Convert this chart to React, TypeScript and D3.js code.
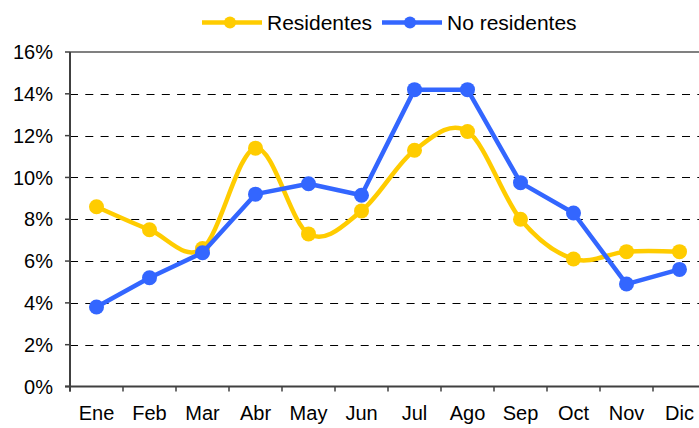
import React from "react";
import * as d3 from "d3";

const months = ["Ene", "Feb", "Mar", "Abr", "May", "Jun", "Jul", "Ago", "Sep", "Oct", "Nov", "Dic"];
const residentes = [8.6, 7.5, 6.6, 11.4, 7.3, 8.4, 11.3, 12.2, 8.0, 6.1, 6.45, 6.45];
const noResidentes = [3.8, 5.2, 6.4, 9.2, 9.7, 9.15, 14.2, 14.2, 9.75, 8.3, 4.9, 5.6];
const yTicks = [0, 2, 4, 6, 8, 10, 12, 14, 16];

const YELLOW = "#FFCC00";
const BLUE = "#3366FF";
const FONT = "'Liberation Sans', Arial, sans-serif";

const App: React.FC = () => {
  const width = 699;
  const height = 428;
  const left = 70;
  const right = 706;
  const top = 52;
  const bottom = 386.5;

  const x = d3.scaleBand<string>().domain(months).range([left, right]);
  const y = d3.scaleLinear().domain([0, 16]).range([bottom, top]);
  const cx = (m: string) => x(m)! + x.bandwidth() / 2;

  const smooth = d3
    .line<number>()
    .x((_, i) => cx(months[i]))
    .y((d) => y(d))
    .curve(d3.curveCardinal.tension(0));
  const straight = d3
    .line<number>()
    .x((_, i) => cx(months[i]))
    .y((d) => y(d));

  const series = [
    { name: "Residentes", data: residentes, color: YELLOW, path: smooth },
    { name: "No residentes", data: noResidentes, color: BLUE, path: straight },
  ];

  const legend = [
    { name: "Residentes", color: YELLOW, x0: 202 },
    { name: "No residentes", color: BLUE, x0: 382 },
  ];

  return (
    <svg
      width={width}
      height={height}
      style={{ position: "absolute", left: 0, top: 0, background: "#fff" }}
      fontFamily={FONT}
    >
      {/* grid */}
      {yTicks.slice(1, -1).map((t) => (
        <line
          key={t}
          x1={left}
          x2={width}
          y1={Math.round(y(t)) + 0.5}
          y2={Math.round(y(t)) + 0.5}
          stroke="#000"
          strokeDasharray="8,7.3"
        />
      ))}
      <line x1={left} x2={width} y1={top} y2={top} stroke="#808080" strokeWidth={2} />

      {/* y axis */}
      <line x1={left} x2={left} y1={top} y2={bottom + 5} stroke="#404040" strokeWidth={2} />
      {yTicks.map((t) => (
        <g key={t}>
          <line x1={left - 5} x2={left} y1={y(t)} y2={y(t)} stroke="#404040" strokeWidth={1.5} />
          <text x={53} y={y(t)} dy="0.36em" textAnchor="end" fontSize={20} fill="#000">
            {t}%
          </text>
        </g>
      ))}

      {/* x axis */}
      <line x1={left - 5} x2={width} y1={bottom} y2={bottom} stroke="#404040" strokeWidth={2} />
      {months.map((m) => (
        <g key={m}>
          <line x1={x(m)!} x2={x(m)!} y1={bottom} y2={bottom + 5} stroke="#404040" strokeWidth={1.5} />
          <text x={cx(m)} y={420} textAnchor="middle" fontSize={20} fill="#000">
            {m}
          </text>
        </g>
      ))}

      {/* series */}
      {series.map((s) => (
        <g key={s.name}>
          <path d={s.path(s.data)!} fill="none" stroke={s.color} strokeWidth={4.5} strokeLinejoin="round" />
          {s.data.map((v, i) => (
            <circle key={i} cx={cx(months[i])} cy={y(v)} r={7.5} fill={s.color} />
          ))}
        </g>
      ))}

      {/* legend */}
      {legend.map((l) => (
        <g key={l.name}>
          <line x1={l.x0} x2={l.x0 + 60} y1={22.5} y2={22.5} stroke={l.color} strokeWidth={4.5} />
          <circle cx={l.x0 + 28} cy={22.5} r={6} fill={l.color} />
          <text x={l.x0 + 65} y={22.5} dy="0.36em" fontSize={21} fill="#000">
            {l.name}
          </text>
        </g>
      ))}
    </svg>
  );
};

export default App;
